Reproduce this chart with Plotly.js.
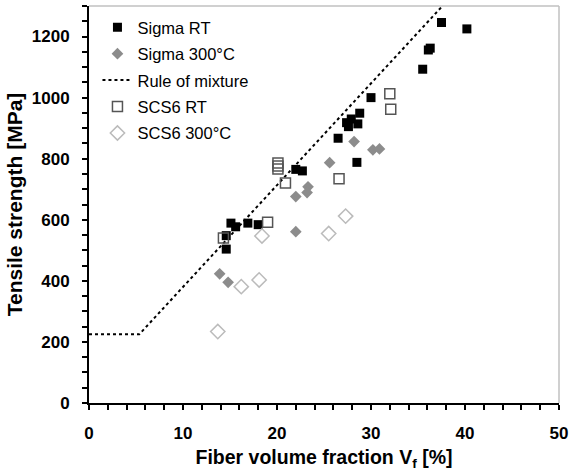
<!DOCTYPE html>
<html>
<head>
<meta charset="utf-8">
<script src="https://cdn.plot.ly/plotly-3.0.1.min.js"></script>
<style>html,body{margin:0;padding:0;background:#fff;}#chart{width:572px;height:471px;}</style>
</head>
<body>
<div id="chart"></div>
<script>
// Sigma RT
const sigmaRT_x = [37.5, 40.2, 36.1, 36.3, 35.5, 30.0, 28.8, 27.9, 27.4, 28.6, 27.6, 26.5, 28.5, 22.0, 22.7, 15.1, 15.6, 16.9, 18.0, 14.6, 14.6];
const sigmaRT_y = [1246, 1225, 1156, 1162, 1093, 1000, 949, 930, 918, 914, 905, 867, 788, 765, 760, 589, 577, 589, 584, 548, 504];
// Sigma 300°C
const sigma300_x = [28.2, 30.2, 30.9, 25.6, 23.3, 23.2, 22.0, 22.0, 13.9, 14.8];
const sigma300_y = [856, 829, 832, 787, 708, 689, 676, 561, 423, 395];
// Rule of mixture
const rom_x = [0, 5.35, 37.6];
const rom_y = [225, 225, 1300];
// SCS6 RT
const scs6RT_x = [32.0, 32.1, 20.1, 20.1, 20.1, 20.9, 26.6, 19.0, 14.3];
const scs6RT_y = [1013, 962, 786, 776, 766, 720, 734, 592, 540];
// SCS6 300°C
const scs6300_x = [27.3, 25.5, 18.4, 18.1, 16.2, 13.7];
const scs6300_y = [612, 555, 547, 403, 381, 234];

const FONT = "Liberation Sans, Arial, sans-serif";

const traces = [
  {name: 'Sigma RT', x: sigmaRT_x, y: sigmaRT_y, type: 'scatter', mode: 'markers', legendgroup: 'a',
   marker: {symbol: 'square', size: 9, color: '#000000', line: {width: 0}}},
  {name: 'Sigma 300°C', x: sigma300_x, y: sigma300_y, type: 'scatter', mode: 'markers', legendgroup: 'b',
   marker: {symbol: 'diamond', size: 9, color: '#8c8c8c', line: {width: 0}}},
  {name: 'Rule of mixture', x: rom_x, y: rom_y, type: 'scatter', mode: 'lines', legendgroup: 'c',
   line: {color: '#000000', width: 2, dash: 'dot'}},
  {name: 'SCS6 RT', x: scs6RT_x, y: scs6RT_y, type: 'scatter', mode: 'markers', legendgroup: 'd',
   marker: {symbol: 'square-open', size: 10, color: '#555555', line: {width: 1.5}}},
  {name: 'SCS6 300°C', x: scs6300_x, y: scs6300_y, type: 'scatter', mode: 'markers', legendgroup: 'e',
   marker: {symbol: 'diamond-open', size: 11, color: '#bbbbbb', line: {width: 1.5}}}
];

const layout = {
  width: 572, height: 471,
  margin: {l: 89, r: 13, t: 6, b: 68},
  paper_bgcolor: '#ffffff', plot_bgcolor: '#ffffff',
  font: {family: FONT, color: '#000000'},
  showlegend: true,
  legend: {x: 0.018, y: 0.99, xanchor: 'left', yanchor: 'top', bgcolor: 'rgba(0,0,0,0)',
           font: {family: FONT, size: 16.5, color: '#000000'}, tracegroupgap: 2, traceorder: 'grouped'},
  xaxis: {
    range: [0, 50], dtick: 10, tick0: 0, showgrid: false, zeroline: false,
    showline: true, linecolor: '#000000', linewidth: 2,
    ticks: 'outside', ticklen: 5, tickwidth: 2, tickcolor: '#000000',
    minor: {dtick: 2, ticks: 'outside', ticklen: 5, tickwidth: 2, tickcolor: '#000000', showgrid: false},
    tickfont: {family: FONT, size: 17, weight: 'bold'},
    ticklabelstandoff: 9,
    title: {text: 'Fiber volume fraction V<sub>f</sub> [%]', font: {family: FONT, size: 19.5, weight: 'bold'}, standoff: 9}
  },
  yaxis: {
    range: [0, 1300], dtick: 200, tick0: 0, showgrid: false, zeroline: false,
    showline: true, linecolor: '#000000', linewidth: 2,
    ticks: 'outside', ticklen: 5, tickwidth: 2, tickcolor: '#000000',
    minor: {dtick: 50, ticks: 'outside', ticklen: 5, tickwidth: 2, tickcolor: '#000000', showgrid: false},
    tickfont: {family: FONT, size: 17, weight: 'bold'},
    ticklabelstandoff: 9,
    title: {text: 'Tensile strength [MPa]', font: {family: FONT, size: 21, weight: 'bold'}, standoff: 3}
  },
  shapes: [
    {type: 'line', xref: 'paper', yref: 'paper', x0: 0, x1: 1, y0: 1, y1: 1, line: {color: '#c0c0c0', width: 1.5}},
    {type: 'line', xref: 'paper', yref: 'paper', x0: 1, x1: 1, y0: 0, y1: 1, line: {color: '#c0c0c0', width: 1.5}}
  ]
};

Plotly.newPlot('chart', traces, layout, {displayModeBar: false, staticPlot: true});
</script>
</body>
</html>
